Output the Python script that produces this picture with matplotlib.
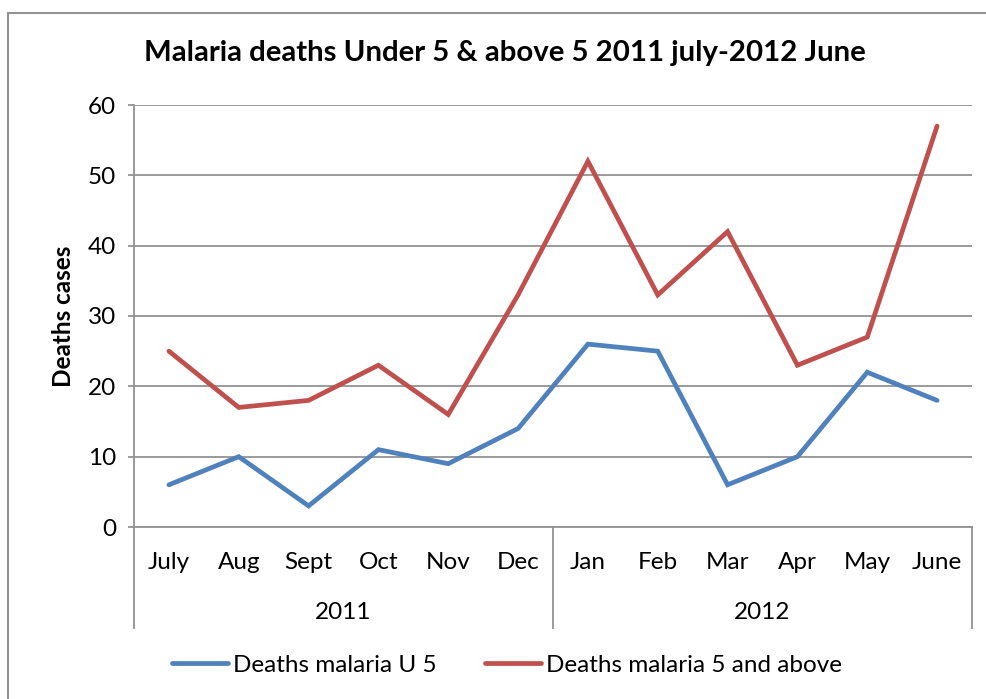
import matplotlib
matplotlib.use('Agg')
import matplotlib.pyplot as plt
from matplotlib.lines import Line2D
import matplotlib.transforms as mtransforms

plt.rcParams['font.family'] = ['Lato', 'DejaVu Sans']

months = ['July', 'Aug', 'Sept', 'Oct', 'Nov', 'Dec',
          'Jan', 'Feb', 'Mar', 'Apr', 'May', 'June']
years = ['2011', '2012']
under5 = [6, 10, 3, 11, 9, 14, 26, 25, 6, 10, 22, 18]
above5 = [25, 17, 18, 23, 16, 33, 52, 33, 42, 23, 27, 57]
yticks = [0, 10, 20, 30, 40, 50, 60]

grey = '#929292'
fs = 17.5
W, H = 986, 699
fig = plt.figure(figsize=(W / 100, H / 100), dpi=100)
ax = fig.add_axes([134 / W, 1 - 527 / H, (972 - 134) / W, (527 - 105) / H])

x = list(range(len(months)))
ax.plot(x, under5, color='#4F81BD', lw=3.4, solid_capstyle='round',
        solid_joinstyle='miter', label='Deaths malaria U 5')
ax.plot(x, above5, color='#C0504D', lw=3.4, solid_capstyle='round',
        solid_joinstyle='miter', label='Deaths malaria 5 and above')

ax.set_xlim(-0.5, len(months) - 0.5)
ax.set_ylim(0, 60)
ax.set_yticks(yticks)
ax.yaxis.grid(True, color=grey, lw=1.3)
ax.set_axisbelow(True)
for s in ['top', 'right']:
    ax.spines[s].set_visible(False)
for s in ['left', 'bottom']:
    ax.spines[s].set_color(grey)
    ax.spines[s].set_linewidth(1.3)
ax.tick_params(axis='y', length=4, color=grey, width=1.3, labelsize=fs, pad=9)
ax.set_xticks(x)
ax.set_xticklabels(months)
ax.tick_params(axis='x', length=0, labelsize=fs, pad=18)

# second level of the category axis
trans = mtransforms.blended_transform_factory(ax.transData, ax.transAxes)
for xv in [-0.5, 5.5, 11.5]:
    ax.add_line(Line2D([xv, xv], [0, -0.239], transform=trans, color=grey,
                       lw=1.3, clip_on=False))
for i, yr in enumerate(years):
    ax.text(2.5 + 6 * i, -0.203, yr, transform=trans, ha='center', va='center',
            fontsize=fs)

ax.set_ylabel('Deaths cases', fontsize=fs, fontweight='bold', labelpad=9)
fig.text(505 / W, 1 - 53 / H, 'Malaria deaths Under 5 & above 5 2011 july-2012 June',
         ha='center', va='center', fontsize=21.2, fontweight='bold')

fig.legend(loc='center', bbox_to_anchor=(507 / W, 1 - 665 / H), ncol=2, frameon=False,
           fontsize=fs, handlelength=2.3, handletextpad=0.2, columnspacing=2.0)

# chart frame (top and left edges visible)
fig.add_artist(Line2D([8 / W, 1], [1 - 13 / H, 1 - 13 / H], transform=fig.transFigure,
                      color=grey, lw=1.5))
fig.add_artist(Line2D([8 / W, 8 / W], [0, 1 - 13 / H], transform=fig.transFigure,
                      color=grey, lw=1.5))

fig.savefig('out.png', dpi=100)
